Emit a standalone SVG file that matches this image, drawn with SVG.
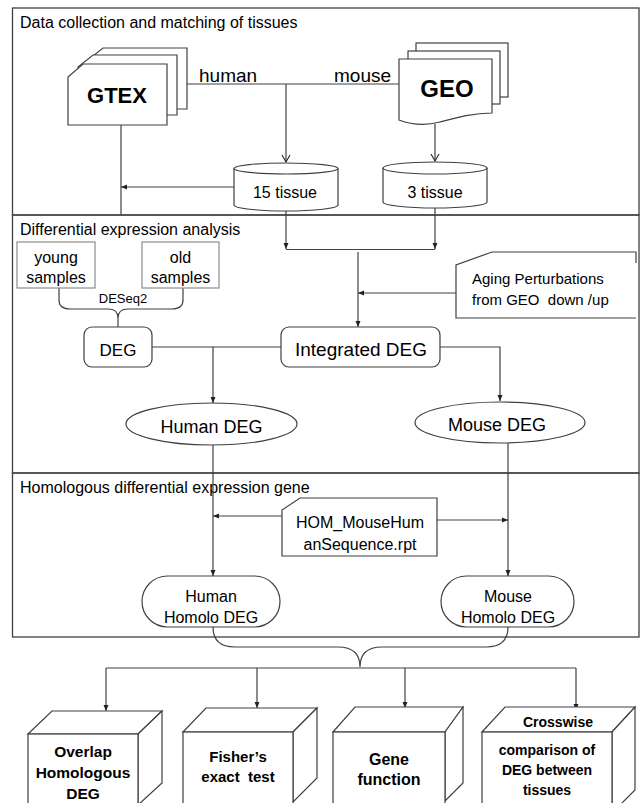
<svg xmlns="http://www.w3.org/2000/svg" width="640" height="803" viewBox="0 0 640 803">
<defs>
<style>
.frame{fill:none;stroke:#404040;stroke-width:1.3}
.ln{fill:none;stroke:#404040;stroke-width:1.2}
.sh{fill:#fff;stroke:#404040;stroke-width:1.2}
.gray{fill:#fff;stroke:#8c8c8c;stroke-width:1.2}
text{font-family:"Liberation Sans",Arial,sans-serif;fill:#000;white-space:pre}
.c{text-anchor:middle}
.b{font-weight:bold}
</style>
<marker id="af" markerWidth="7" markerHeight="6" refX="6" refY="3" orient="auto" markerUnits="userSpaceOnUse">
<path d="M0,0.5 L6,3 L0,5.5 z" fill="#222"/>
</marker>
<marker id="ao" markerWidth="10" markerHeight="10" refX="8" refY="5" orient="auto" markerUnits="userSpaceOnUse">
<path d="M1,1 L8,5 L1,9" fill="none" stroke="#222" stroke-width="1.1"/>
</marker>
</defs>
<rect width="640" height="803" fill="#fff"/>

<g id="panels">
<rect class="frame" x="12.5" y="8" width="626.5" height="207"/>
<rect class="frame" x="12.5" y="215" width="626.5" height="258"/>
<rect class="frame" x="12.5" y="473" width="626.5" height="164"/>
<text x="20" y="28" font-size="16">Data collection and matching of tissues</text>
<text x="20" y="235" font-size="16">Differential expression analysis</text>
<text x="20" y="493" font-size="16">Homologous differential expression gene</text>
</g>

<g id="connectors">
<path class="ln" d="M187,84 L399,84"/>
<path class="ln" d="M286,84 L286,162" marker-end="url(#ao)"/>
<path class="ln" d="M435,124 L435,161" marker-end="url(#ao)"/>
<path class="ln" d="M234,187 L121,187" marker-end="url(#af)"/>
<path class="ln" d="M121,125 L121,215"/>
<path class="ln" d="M286,211 L286,249" marker-end="url(#af)"/>
<path class="ln" d="M435,208 L435,249" marker-end="url(#af)"/>
<path class="ln" d="M286,249.5 L435,249.5"/>
<path class="ln" d="M358,252 L358,327" marker-end="url(#af)"/>
<path class="ln" d="M456,293 L358,293" marker-end="url(#af)"/>
<path class="ln" d="M59,288 L59,300 Q59,309 70,309 L108,309 Q118,309 118,318 L118,327 M118,318 Q118,309 128,309 L172,309 Q183,309 183,300 L183,288"/>
<path class="ln" d="M152,347 L281,347"/>
<path class="ln" d="M213,347 L213,403" marker-end="url(#af)"/>
<path class="ln" d="M440,347 L500,347 L500,401" marker-end="url(#af)"/>
<path class="ln" d="M213,445 L213,576" marker-end="url(#af)"/>
<path class="ln" d="M508,443 L508,576" marker-end="url(#af)"/>
<path class="ln" d="M282,516 L213,516" marker-end="url(#af)"/>
<path class="ln" d="M437,520 L508,520" marker-end="url(#af)"/>
<path class="ln" d="M213,627 Q213,647 235,647 L338,647 Q360,647 360,667 Q360,647 382,647 L486,647 Q508,647 508,627"/>
<path class="ln" d="M106,668 L576,668"/>
<path class="ln" d="M106,668 L106,711" marker-end="url(#af)"/>
<path class="ln" d="M257,668 L257,708" marker-end="url(#af)"/>
<path class="ln" d="M405,668 L405,708" marker-end="url(#af)"/>
<path class="ln" d="M576,668 L576,710" marker-end="url(#af)"/>
</g>

<g id="gtex">
<path class="sh" d="M103,48 L187,48 L187,109 L88,109 L88,60 Z"/>
<path class="sh" d="M93,55 L177,55 L177,115 L78,115 L78,67 Z"/>
<path class="sh" d="M83,64 L167,64 L167,125 L68,125 L68,77 Z"/>
<text class="c b" x="117" y="103" font-size="22">GTEX</text>
</g>
<text id="lbl-human" x="199" y="82" font-size="19">human</text>
<text id="lbl-mouse" x="334" y="82" font-size="19">mouse</text>

<g id="geo">
<rect class="sh" x="416" y="43" width="92" height="54"/>
<rect class="sh" x="408" y="51" width="92" height="53"/>
<path class="sh" d="M399,59 L492,59 L492,113 C472,113 455,118 440,122 C425,126 412,125 399,120 Z"/>
<text class="c b" x="447" y="97" font-size="24">GEO</text>
</g>

<g id="t15">
<path class="sh" d="M234,168.5 A52,5.5 0 0 1 338,168.5 L338,205 A52,6 0 0 1 234,205 Z"/>
<path class="ln" d="M234,168.5 A52,5.5 0 0 0 338,168.5"/>
<text class="c" x="285" y="198" font-size="16">15 tissue</text>
</g>
<g id="t3">
<path class="sh" d="M383,168 A52,6 0 0 1 487,168 L487,202 A52,6 0 0 1 383,202 Z"/>
<path class="ln" d="M383,168 A52,6 0 0 0 487,168"/>
<text class="c" x="435" y="198" font-size="16">3 tissue</text>
</g>

<g id="young">
<rect class="gray" x="17" y="242" width="78" height="46"/>
<text class="c" x="56" y="263" font-size="16">young</text>
<text class="c" x="56" y="283" font-size="16">samples</text>
</g>
<g id="old">
<rect class="gray" x="142" y="242" width="77" height="46"/>
<text class="c" x="180.5" y="263" font-size="16">old</text>
<text class="c" x="180.5" y="283" font-size="16">samples</text>
</g>
<text id="lbl-deseq2" class="c" x="123" y="303" font-size="13">DESeq2</text>

<g id="aging">
<path class="sh" d="M636,263 L636,252 L492,252 L456,265 L456,318 L636,318"/>
<text x="472" y="284" font-size="15">Aging Perturbations</text>
<text x="472" y="305" font-size="15">from GEO  down /up</text>
</g>

<g id="deg">
<rect class="sh" x="84" y="327" width="68" height="40" rx="8"/>
<text class="c" x="118" y="356" font-size="17">DEG</text>
</g>
<g id="integrated">
<rect class="sh" x="281" y="327" width="159" height="40" rx="8"/>
<text class="c" x="361" y="356" font-size="19">Integrated DEG</text>
</g>
<g id="human-deg">
<ellipse class="sh" cx="211.5" cy="424" rx="85.5" ry="21"/>
<text class="c" x="211.5" y="433" font-size="18">Human DEG</text>
</g>
<g id="mouse-deg">
<ellipse class="sh" cx="500" cy="422.5" rx="85" ry="20.5"/>
<text class="c" x="497" y="431" font-size="18">Mouse DEG</text>
</g>

<g id="hom">
<path class="sh" d="M300,498 L437,498 L437,556 L282,556 L282,510 Z"/>
<text class="c" x="360" y="528" font-size="16">HOM_MouseHum</text>
<text class="c" x="360" y="550" font-size="16">anSequence.rpt</text>
</g>

<g id="human-homolo">
<rect class="sh" x="142" y="576" width="138" height="51" rx="25.5"/>
<text class="c" x="211" y="602" font-size="16">Human</text>
<text class="c" x="211" y="623" font-size="16">Homolo DEG</text>
</g>
<g id="mouse-homolo">
<rect class="sh" x="441" y="576" width="133" height="51" rx="25.5"/>
<text class="c" x="508" y="602" font-size="16">Mouse</text>
<text class="c" x="508" y="623" font-size="16">Homolo DEG</text>
</g>

<g id="box-overlap">
<path class="sh" d="M28,734 L52,711 L162,711 L138,734 Z"/>
<path class="sh" d="M138,734 L162,711 L162,783 L138,805 Z"/>
<rect class="sh" x="28" y="734" width="110" height="80"/>
<text class="c b" x="83" y="757" font-size="15.5">Overlap</text>
<text class="c b" x="83" y="778" font-size="15.5">Homologous</text>
<text class="c b" x="83" y="799" font-size="15.5">DEG</text>
</g>
<g id="box-fisher">
<path class="sh" d="M183,732 L206,708 L317,708 L293,732 Z"/>
<path class="sh" d="M293,732 L317,708 L317,778 L293,802 Z"/>
<rect class="sh" x="183" y="732" width="110" height="82"/>
<text class="c b" x="238" y="762" font-size="15">Fisher’s</text>
<text class="c b" x="238" y="782" font-size="15">exact  test</text>
</g>
<g id="box-gene">
<path class="sh" d="M333,732 L355,707 L463,707 L445,732 Z"/>
<path class="sh" d="M445,732 L463,707 L463,783 L445,801 Z"/>
<rect class="sh" x="333" y="732" width="112" height="82"/>
<text class="c b" x="389" y="765" font-size="16">Gene</text>
<text class="c b" x="389" y="785" font-size="16">function</text>
</g>
<g id="box-crosswise">
<path class="sh" d="M482,732 L505,707 L635,707 L612,732 Z"/>
<path class="sh" d="M612,732 L635,707 L635,790 L612,813 Z"/>
<rect class="sh" x="482" y="732" width="130" height="82"/>
<text class="c b" x="558" y="727" font-size="14">Crosswise</text>
<text class="c b" x="547" y="755" font-size="14">comparison of</text>
<text class="c b" x="547" y="775" font-size="14">DEG between</text>
<text class="c b" x="547" y="795" font-size="14">tissues</text>
</g>
</svg>
